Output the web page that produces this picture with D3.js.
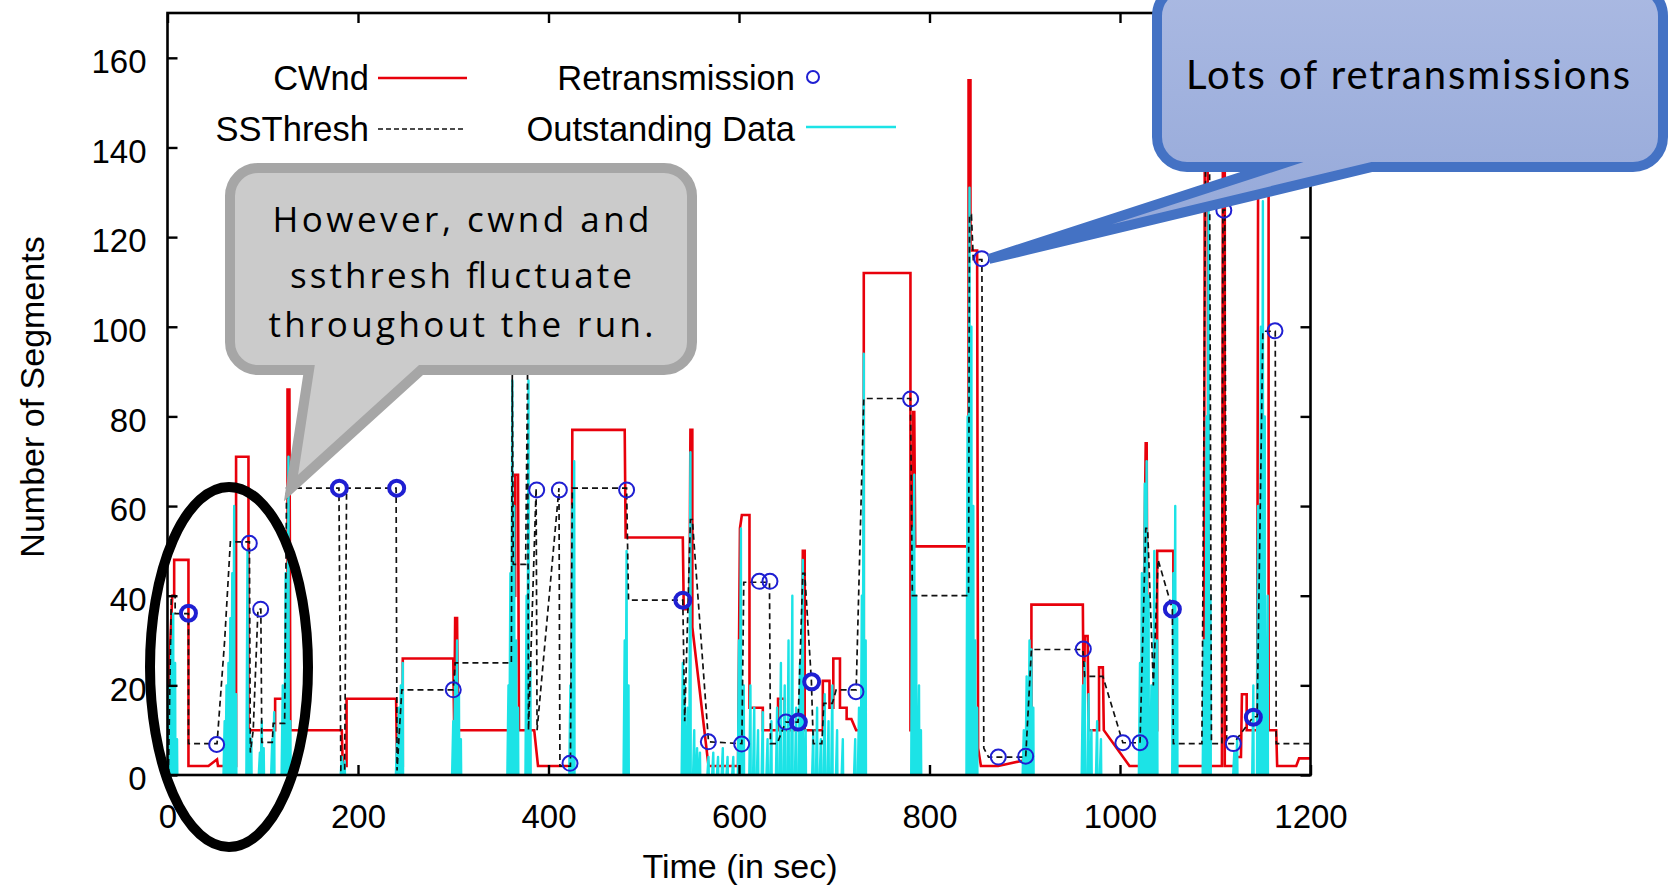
<!DOCTYPE html>
<html><head><meta charset="utf-8">
<script src="https://cdn.jsdelivr.net/npm/d3@7"></script>
<style>html,body{margin:0;padding:0;background:#fff;}svg{display:block;}</style>
</head><body>
<svg id="chart" width="1673" height="886"></svg>
<script>
// ---- TCP trace: congestion window (segments) over time (s) ----
const cwndTime  = [0,2,5,7,7,22,22,43,52,53,72,72,85,85,113,113,122,122,126,126,128,129,183,184,188,188,240,241,247,247,300,301,302,304,305,360,362,365,365,368,369,385,389,424,425,480,481,541,542,548,549,551,551,568,599,601,603,611,611,625,625,641,641,648,648,666,667,669,669,688,688,695,695,699,699,706,706,713,713,718,723,731,731,780,780,782,783,784,785,841,841,843,843,850,851,854,872,900,907,907,961,962,963,966,967,978,978,982,983,1010,1021,1024,1027,1028,1029,1039,1039,1056,1056,1088,1089,1092,1093,1107,1108,1110,1110,1120,1121,1127,1128,1133,1133,1144,1145,1156,1156,1164,1165,1185,1188,1200];
const cwndValue = [1,25,40,40,48,48,2,2,3.5,2,2,71,71,10,10,17,17,11.5,11.5,86,86,10,10,2,2,17,17,2,2,26,26,10,35,35,10,10,40,40,67,67,10,10,2,2,77,77,53,53,37,37,77,77,33,2,2,55,58,58,15,15,10,10,17,17,10,10,50,50,10,10,21,21,15,15,26,26,15,15,12.5,12.5,10,10,112,112,10,10,81,81,51,51,155,155,117,117,6,2,2,3.3,3.3,38,38,10,31,31,10,10,24,24,10,2,2,20,74,74,10,10,50,50,2,2,140,140,2,2,140,140,2,2,4,4,18,18,10,10,135,135,10,10,2,2,3.7,3.7];

// ---- slow-start threshold ----
const ssTime  = [1,4,8,8,22,22,52,60,66,86,87,90,95,98,99,110,111,123,125,180,182,186,188,240,241,246,300,302,361,362,363,376,378,379,387,388,411,412,423,425,482,484,541,543,549,551,568,603,605,632,633,640,649,662,667,669,676,678,687,689,698,702,723,731,780,782,841,842,844,846,855,857,862,901,907,961,963,982,1003,1021,1027,1029,1035,1040,1055,1056,1086,1090,1094,1096,1107,1108,1110,1112,1119,1140,1144,1150,1163,1164,1200];
const ssValue = [0,40,40,36,36,7,7,30,52,52,5,10,37,37,7.3,7.3,11.5,11.5,64,64,1,1,64,64,1,19,19,25,25,90,47,47,90,10,64,10,64,2,2,64,64,39,39,12,57,57,7.4,7,43,43,7,7,11.8,11.8,45,45,21,7,7,16,16,19,19,84,84,40,40,125,125,115,115,6,4,4,28,28,22,22,7.2,7.2,55,55,20,48,37,7,7,140,140,7,7,126,126,7,7,13,13,99,99,7,7];

// ---- retransmission events (time, segments, overlapping count) ----
const retxTime  = [22,51.6,85.9,97.8,180.4,240.6,300,387.6,411.4,422.6,482,541,567.8,602.8,621.3,632.5,649.3,662.3,676.3,722.8,780.2,854.8,872.2,901,961.5,1003,1021,1055,1109,1119,1140,1162.7];
const retxValue = [36.1,6.8,51.7,37,64,64,19,63.6,63.6,2.6,63.6,39,7.4,6.9,43.2,43.2,11.8,11.8,20.8,18.6,83.9,115.2,4,4.2,28.1,7.2,7.2,37,126,7,12.9,99.1];
const retxCount = [3,1,1,1,3,3,1,1,1,1,1,3,1,1,1,1,1,3,3,1,1,1,1,1,1,1,1,3,1,1,3,1];

// ---- outstanding data bursts: peak time and peak segments ----
const outTime  = [2,4,6,8,10, 60,62,64,66,68,70,72, 84,86,88, 97,99,101, 110,112, 121,124,127,129, 183,186, 241,243,245,247, 300,302,304,306,308, 358,360,362,364,366,368, 377,379,381, 423,425,427, 480,482,484, 541,543,546,549,553,556,559, 568,573,578,583,588,594, 600,602,605, 612,616,620,625,630,634, 640,644,648,652,656,660,664,667,670, 678,682,686,690,694,698,703,709, 722,726,729,731,733, 782,784,786,789,791, 840,842,844,846,848,850, 899,902,905,907,909, 961,963,967,970,976,980, 1021,1023,1026,1028,1030,1033,1036,1039, 1056,1058,1060, 1088,1091,1093,1095, 1120,1123, 1140,1145,1148,1150,1152,1155];
const outValue = [20,30,36,25,8, 12,20,25,35,45,60,18, 50,10,8, 5,12,6, 8,14, 20,45,71,12, 4,3, 8,15,20,25, 12,22,30,18,8, 20,45,88,60,30,15, 40,88,25, 20,60,70, 30,50,20, 25,20,15,72,10,6,5, 4,5,4,6,4,4, 30,55,20, 20,15,10,14,8,12, 15,25,20,30,40,15,25,48,10, 10,15,8,18,12,20,10,8, 8,15,40,94,30, 55,67,40,20,10, 80,131,100,60,30,15, 10,22,30,28,15, 20,25,18,10,12,8, 25,45,65,70,40,20,50,30, 45,60,35, 30,80,126,40, 5,8, 20,60,100,128,80,40];

// ---- axes ----
const xTicks = [0,200,400,600,800,1000,1200];
const yTicks = [0,20,40,60,80,100,120,140,160];

const svg = d3.select("#chart");
const x = d3.scaleLinear().domain([0,1200]).range([167.5,1310.5]);
const y = d3.scaleLinear().domain([0,170]).range([775,13]);
const FONT = "'Liberation Sans', Arial, Helvetica, sans-serif";

const defs = svg.append("defs");
defs.append("clipPath").attr("id","plotArea").append("rect")
  .attr("x",x(0)).attr("y",y(170)).attr("width",x(1200)-x(0)).attr("height",y(0)-y(170));
const grad = defs.append("linearGradient").attr("id","blueFill").attr("x1",0).attr("y1",0).attr("x2",0).attr("y2",1);
grad.append("stop").attr("offset","0%").attr("stop-color","#aab9e2");
grad.append("stop").attr("offset","100%").attr("stop-color","#93a7d8");

const line = d3.line().x(d=>x(d[0])).y(d=>y(d[1]));
const plot = svg.append("g").attr("clip-path","url(#plotArea)");

// congestion window
plot.append("path").datum(d3.zip(cwndTime,cwndValue)).attr("d",line)
  .attr("fill","none").attr("stroke","#e8000b").attr("stroke-width",2.6);

// outstanding data: each burst ramps up and collapses back to zero
plot.append("path")
  .attr("d", outTime.map((t,i)=>line([[t-1.2,0],[t,outValue[i]],[t+0.3,0]])).join(""))
  .attr("fill","none").attr("stroke","#1ce3e6").attr("stroke-width",2.4).attr("stroke-linejoin","round");

// slow-start threshold
plot.append("path").datum(d3.zip(ssTime,ssValue)).attr("d",line)
  .attr("fill","none").attr("stroke","#111").attr("stroke-width",1.7).attr("stroke-dasharray","6,4");

// retransmissions
plot.selectAll("circle.retx").data(d3.range(retxTime.length)).join("circle")
  .attr("class","retx")
  .attr("cx",i=>x(retxTime[i])).attr("cy",i=>y(retxValue[i])).attr("r",7.5)
  .attr("fill","none").attr("stroke","#1f1fd2").attr("stroke-width",i=>retxCount[i]>1?4:2);

// frame with mirrored inward ticks
function styleAxis(g){
  g.select(".domain").remove();
  g.selectAll(".tick line").attr("stroke","#000").attr("stroke-width",2.4);
  g.selectAll("text").attr("font-family",FONT).attr("font-size",33).attr("fill","#000");
}
svg.append("g").attr("transform",`translate(${x(0)},0)`)
  .call(d3.axisLeft(y).tickValues(yTicks).tickSize(-10).tickPadding(21).tickFormat(d3.format("d")))
  .call(styleAxis).call(g=>g.selectAll("text").attr("dy","0.45em"));
svg.append("g").attr("transform",`translate(${x(1200)},0)`)
  .call(d3.axisRight(y).tickValues(yTicks).tickSize(-10).tickFormat("")).call(styleAxis);
svg.append("g").attr("transform",`translate(0,${y(0)})`)
  .call(d3.axisBottom(x).tickValues(xTicks).tickSize(-10).tickPadding(30).tickFormat(d3.format("d"))).call(styleAxis);
svg.append("g").attr("transform",`translate(0,${y(170)})`)
  .call(d3.axisTop(x).tickValues(xTicks).tickSize(-10).tickFormat("")).call(styleAxis);
svg.append("rect").attr("x",x(0)).attr("y",y(170)).attr("width",x(1200)-x(0)).attr("height",y(0)-y(170))
  .attr("fill","none").attr("stroke","#000").attr("stroke-width",2.6);

// axis titles
svg.append("text").attr("x",740).attr("y",878).attr("text-anchor","middle")
  .attr("font-family",FONT).attr("font-size",34).text("Time (in sec)");
svg.append("text").attr("transform","translate(44,397) rotate(-90)").attr("text-anchor","middle")
  .attr("font-family",FONT).attr("font-size",34).text("Number of Segments");

// legend
const leg = svg.append("g").attr("font-family",FONT).attr("font-size",34.5).attr("text-anchor","end");
leg.append("text").attr("x",369).attr("y",90).text("CWnd");
leg.append("line").attr("x1",378).attr("x2",467).attr("y1",78).attr("y2",78).attr("stroke","#e8000b").attr("stroke-width",2.6);
leg.append("text").attr("x",369).attr("y",141).text("SSThresh");
leg.append("line").attr("x1",378).attr("x2",464).attr("y1",129).attr("y2",129).attr("stroke","#111").attr("stroke-width",1.5).attr("stroke-dasharray","5,3");
leg.append("text").attr("x",795).attr("y",90).text("Retransmission");
leg.append("circle").attr("cx",813).attr("cy",77).attr("r",6).attr("fill","none").attr("stroke","#1f1fd2").attr("stroke-width",2);
leg.append("text").attr("x",795).attr("y",141).text("Outstanding Data");
leg.append("line").attr("x1",806).attr("x2",896).attr("y1",127).attr("y2",127).attr("stroke","#1ce3e6").attr("stroke-width",2.6);

// speech-bubble outline: rounded box with a pointer leaving its bottom edge
function bubble(x0,y0,x1,y1,r,baseL,baseR,tip){
  const p = d3.path();
  p.moveTo(x0+r,y0);
  p.lineTo(x1-r,y0); p.arcTo(x1,y0,x1,y0+r,r);
  p.lineTo(x1,y1-r); p.arcTo(x1,y1,x1-r,y1,r);
  p.lineTo(baseR,y1); p.lineTo(tip[0],tip[1]); p.lineTo(baseL,y1);
  p.lineTo(x0+r,y1); p.arcTo(x0,y1,x0,y1-r,r);
  p.lineTo(x0,y0+r); p.arcTo(x0,y0,x0+r,y0,r);
  p.closePath();
  return p.toString();
}

svg.append("path").attr("d",bubble(230,168,692,370,28,309,421,[291,488]))
  .attr("fill","#cbcbcb").attr("stroke","#a6a6a6").attr("stroke-width",10).attr("stroke-linejoin","miter").attr("stroke-miterlimit",10);
const grayLines = [["However, cwnd and",232,377],["ssthresh fluctuate",288,342],["throughout the run.",337,385]];
svg.append("g").selectAll("text").data(grayLines).join("text")
  .attr("x",461).attr("y",d=>d[1]).attr("text-anchor","middle")
  .attr("font-family","'Open Sans', sans-serif").attr("font-size",35).attr("fill","#000")
  .attr("textLength",d=>d[2]).attr("lengthAdjust","spacing").text(d=>d[0]);

svg.append("path").attr("d",bubble(1157,-14,1663,167,30,1272,1372,[989,259]))
  .attr("fill","url(#blueFill)").attr("stroke","#4472c4").attr("stroke-width",10).attr("stroke-linejoin","miter").attr("stroke-miterlimit",10);
svg.append("text").attr("x",1186).attr("y",89)
  .attr("font-family","Lato, 'Open Sans', sans-serif").attr("font-size",40).attr("fill","#000")
  .attr("textLength",444).attr("lengthAdjust","spacing").text("Lots of retransmissions");

// highlight ring around the start of the run
svg.append("ellipse").attr("cx",229).attr("cy",667).attr("rx",79).attr("ry",180)
  .attr("fill","none").attr("stroke","#000").attr("stroke-width",10);
</script>
</body></html>
